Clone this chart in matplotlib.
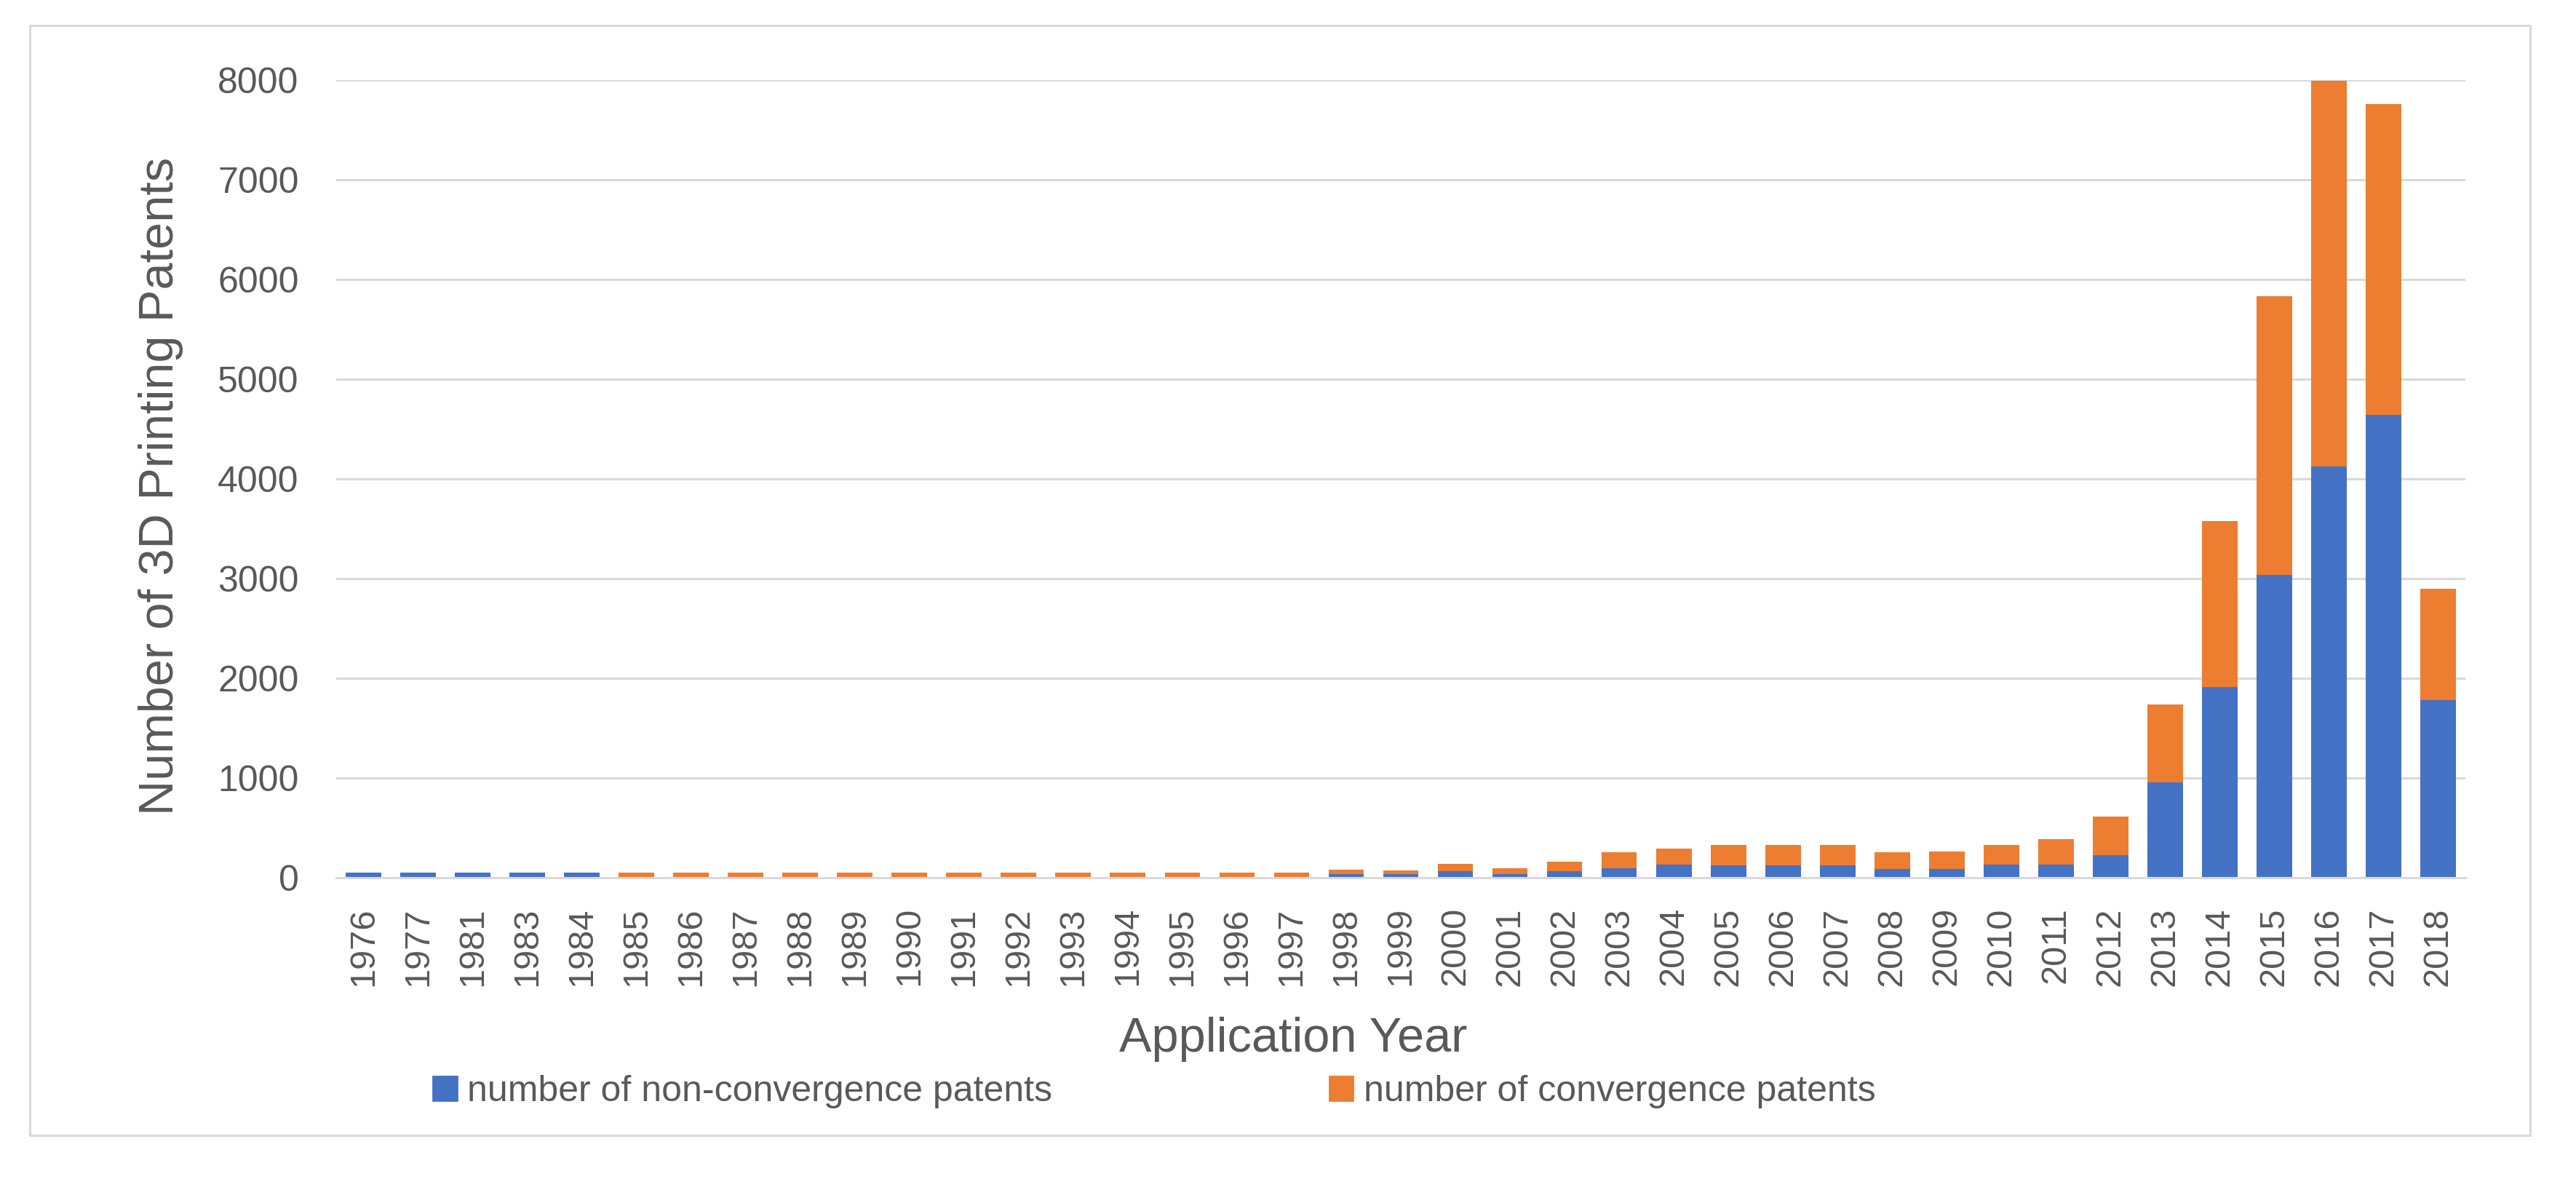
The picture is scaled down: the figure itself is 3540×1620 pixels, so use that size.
import numpy as np
import matplotlib.pyplot as plt
from matplotlib.patches import Rectangle, Patch

# data
years = ["1976", "1977", "1981", "1983", "1984", "1985", "1986", "1987", "1988",
         "1989", "1990", "1991", "1992", "1993", "1994", "1995", "1996", "1997",
         "1998", "1999", "2000", "2001", "2002", "2003", "2004", "2005", "2006",
         "2007", "2008", "2009", "2010", "2011", "2012", "2013", "2014", "2015",
         "2016", "2017", "2018"]
non_conv = [48, 48, 48, 48, 48, 0, 0, 0, 0,
            0, 0, 0, 0, 0, 0, 0, 0, 0,
            38, 35, 63, 35, 63, 92, 130, 125, 125,
            125, 88, 90, 135, 135, 225, 955, 1910, 3040,
            4125, 4640, 1780]
conv = [0, 0, 0, 0, 0, 48, 48, 48, 48,
        48, 48, 48, 48, 48, 48, 48, 48, 48,
        40, 40, 75, 62, 95, 166, 160, 200, 200,
        200, 170, 172, 193, 255, 390, 785, 1665, 2790,
        3865, 3120, 1120]
yticks = [0, 1000, 2000, 3000, 4000, 5000, 6000, 7000, 8000]

blue = "#4472C4"
orange = "#ED7D31"
grey_txt = "#595959"
grey_line = "#D9D9D9"

plt.rcParams["font.family"] = ["Liberation Sans", "DejaVu Sans"]

W, H = 3540, 1620
fig = plt.figure(figsize=(17.7, 8.1), dpi=200)
ax = fig.add_axes([462 / W, 1 - 1206 / H, (3388 - 462) / W, (1206 - 110) / H])

x = np.arange(len(years))
ax.bar(x, non_conv, width=0.65, color=blue, zorder=2)
ax.bar(x, conv, width=0.65, bottom=non_conv, color=orange, zorder=2)

ax.set_xlim(-0.5, len(years) - 0.5)
ax.set_ylim(0, 8000)
ax.set_yticks(yticks)
ax.set_yticklabels([str(v) for v in yticks])
ax.set_xticks(x)
ax.set_xticklabels(years, rotation=90)
ax.tick_params(axis="y", length=0, pad=18.5, labelsize=18, labelcolor=grey_txt)
ax.tick_params(axis="x", length=0, pad=14.5, labelsize=17.5, labelcolor=grey_txt)

ax.set_axisbelow(True)
ax.yaxis.grid(True, color=grey_line, linewidth=1.1)
for s in ["top", "right", "left"]:
    ax.spines[s].set_visible(False)
ax.spines["bottom"].set_color(grey_line)
ax.spines["bottom"].set_linewidth(1.1)

fig.text(221 / W, 1 - 668 / H, "Number of 3D Printing Patents", rotation=90,
         ha="center", va="center", fontsize=24, color=grey_txt)
fig.text(1777 / W, 1 - 1445 / H, "Application Year", ha="center",
         va="baseline", fontsize=24, color=grey_txt)

handles = [Patch(color=blue), Patch(color=orange)]
labels = ["number of non-convergence patents", "number of convergence patents"]
fig.legend(handles, labels, loc="center left", bbox_to_anchor=(595 / W, 1 - 1500 / H),
           ncol=2, frameon=False, fontsize=18, labelcolor=grey_txt,
           handlelength=0.65, handleheight=0.65, handletextpad=0.3,
           columnspacing=7.6, borderpad=0, borderaxespad=0)

# outer chart border
fig.patches.append(Rectangle((41 / W, 1 - 1560 / H), (3477 - 41) / W, (1560 - 35) / H,
                             transform=fig.transFigure, fill=False,
                             edgecolor=grey_line, linewidth=1.1))

fig.savefig("out.png", dpi=200, facecolor="white")
